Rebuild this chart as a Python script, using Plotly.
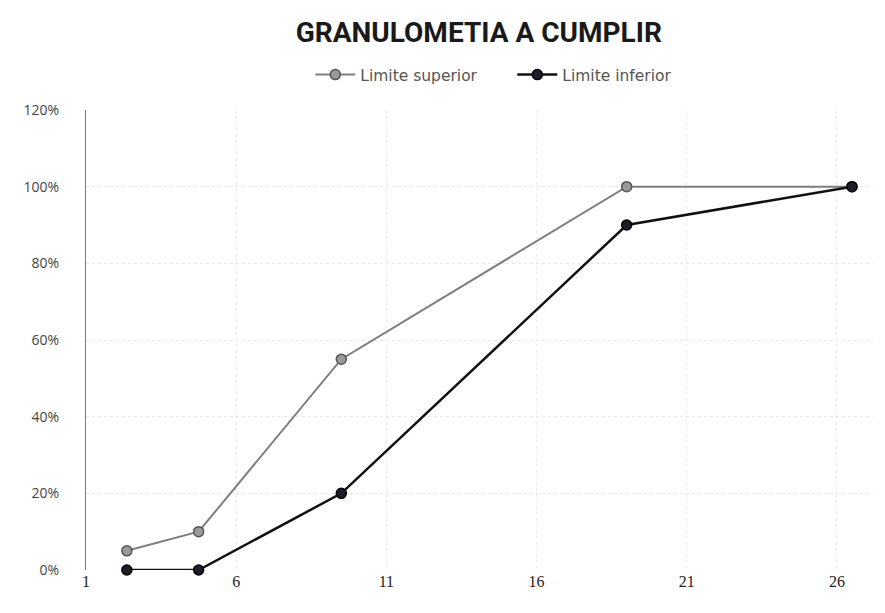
import plotly.graph_objects as go

tamiz = [2.36, 4.75, 9.5, 19, 26.5]
limite_superior = [0.05, 0.10, 0.55, 1.00, 1.00]
limite_inferior = [0.00, 0.00, 0.20, 0.90, 1.00]
x_ticks = [1, 6, 11, 16, 21, 26]
y_ticks = [0, 0.2, 0.4, 0.6, 0.8, 1.0, 1.2]

fig = go.Figure()
fig.add_trace(go.Scatter(
    x=tamiz, y=limite_superior, name="Limite superior", mode="lines+markers",
    line=dict(color="#7e7e7e", width=2), cliponaxis=False,
    marker=dict(size=10, color="#9a9a9a", line=dict(color="#555555", width=1.5)),
))
fig.add_trace(go.Scatter(
    x=tamiz, y=limite_inferior, name="Limite inferior", mode="lines+markers",
    line=dict(color="#111111", width=2.5), cliponaxis=False,
    marker=dict(size=10, color="#1c1f2a", line=dict(color="#000000", width=1.5)),
))

fig.update_layout(
    width=885, height=613,
    paper_bgcolor="white", plot_bgcolor="white",
    margin=dict(l=78, r=20, t=102, b=51, autoexpand=False),
    title=dict(text="<b>GRANULOMETIA A CUMPLIR</b>", x=0.532, xanchor="center", y=0.96, yanchor="middle",
               font=dict(family="Roboto", size=28, color="#1a1a1a")),
    legend=dict(orientation="h", x=0.285, xanchor="left", y=1.076, yanchor="middle",
                font=dict(family="DejaVu Sans", size=15.5, color="#555555"),
                traceorder="normal", itemwidth=40, entrywidth=147, entrywidthmode="pixels"),
    showlegend=True,
)
fig.update_xaxes(
    range=[1, 27.2], tickvals=x_ticks, ticktext=[str(v) for v in x_ticks],
    showline=False, zeroline=False, automargin=False,
    showgrid=True, gridcolor="#ececec", griddash="dot", gridwidth=1,
    tickfont=dict(family="Liberation Serif", size=16, color="#222222"),
    ticks="", ticklen=0,
)
fig.update_yaxes(
    range=[0, 1.2], tickvals=y_ticks, tickformat=".0%", automargin=False,
    showline=True, linecolor="#777777", linewidth=1, mirror=False,
    zeroline=False,
    showgrid=True, gridcolor="#e8e8e8", griddash="dot", gridwidth=1,
    tickfont=dict(family="Open Sans", size=14, color="#444444"),
    ticks="", ticklabelstandoff=23,
)

fig.write_html("out.html")
